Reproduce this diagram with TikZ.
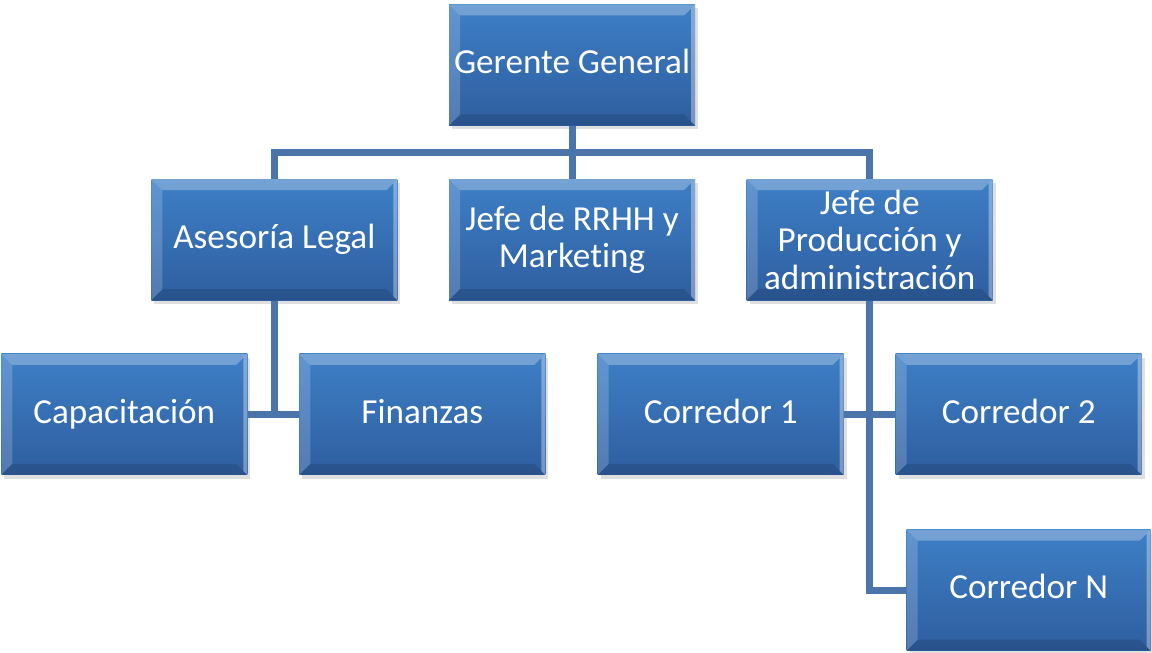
\documentclass[tikz,border=0pt]{standalone}
\usepackage{fontspec}
\setmainfont[RawFeature={-liga;-clig;-dlig}]{Carlito}
\usepackage{tikz}
\usetikzlibrary{calc,positioning,shadows}

\definecolor{boxtop}{HTML}{3E7FC6}
\definecolor{boxbot}{HTML}{2E5E9F}
\definecolor{linkblue}{HTML}{4A74AA}

\begin{document}
\begin{tikzpicture}[
  node distance=1.06cm,
  every node/.style={font=\fontsize{20}{21.3}\selectfont},
  orgbox/.style={top color=boxtop, bottom color=boxbot, text=white, align=center,
    minimum width=4.92cm, minimum height=2.42cm, inner sep=2pt,
    drop shadow={opacity=0.25, shadow xshift=0.06cm, shadow yshift=-0.08cm},
    path picture={
      \fill[white, opacity=0.28] (path picture bounding box.north west) -- (path picture bounding box.north east)
        -- ($(path picture bounding box.north east)+(-0.22,-0.22)$) -- ($(path picture bounding box.north west)+(0.22,-0.22)$) -- cycle;
      \fill[white, opacity=0.18] (path picture bounding box.north west) -- (path picture bounding box.south west)
        -- ($(path picture bounding box.south west)+(0.22,0.22)$) -- ($(path picture bounding box.north west)+(0.22,-0.22)$) -- cycle;
      \fill[black, opacity=0.12] (path picture bounding box.south west) -- (path picture bounding box.south east)
        -- ($(path picture bounding box.south east)+(-0.22,0.22)$) -- ($(path picture bounding box.south west)+(0.22,0.22)$) -- cycle;
      \fill[white, opacity=0.35] (path picture bounding box.north east) -- (path picture bounding box.south east)
        -- ($(path picture bounding box.south east)+(-0.08,0.08)$) -- ($(path picture bounding box.north east)+(-0.08,-0.08)$) -- cycle;
    }},
  oneline/.style={orgbox, text height=14pt, text depth=4pt},
  link/.style={draw=linkblue, line width=0.14cm}
]
\useasboundingbox (0,0) rectangle (23.04,-13.06);

% nodes
\node[oneline] (gerente) at (11.44,-1.3) {Gerente General};
\node[orgbox, below=of gerente] (rrhh) {Jefe de RRHH y\\Marketing};
\node[oneline, left=1.02cm of rrhh] (asesoria) {Asesoría Legal};
\node[orgbox, right=1.02cm of rrhh] (produccion) {Jefe de\\Producción y\\administración};
\node[oneline, below=of asesoria, xshift=-3cm] (capacitacion) {Capacitación};
\node[oneline, below=of asesoria, xshift=2.96cm] (finanzas) {Finanzas};
\node[oneline, below=of produccion, xshift=-2.98cm] (corredor1) {Corredor 1};
\node[oneline, below=of produccion, xshift=2.98cm] (corredor2) {Corredor 2};
\node[oneline, below=1.08cm of corredor2, xshift=0.2cm, minimum width=4.88cm] (corredorN) {Corredor N};

% connectors
\coordinate (bus) at ($(gerente.south)!0.5!(rrhh.north)$);
\draw[link] (gerente.south) -- (rrhh.north);
\draw[link] (asesoria.north) |- (bus) -| (produccion.north);
\draw[link] (asesoria.south) -- (asesoria.south |- capacitacion.east);
\draw[link] (capacitacion.east) -- (finanzas.west);
\draw[link] (produccion.south) |- (corredorN.west);
\draw[link] (corredor1.east) -- (corredor2.west);
\end{tikzpicture}
\end{document}
